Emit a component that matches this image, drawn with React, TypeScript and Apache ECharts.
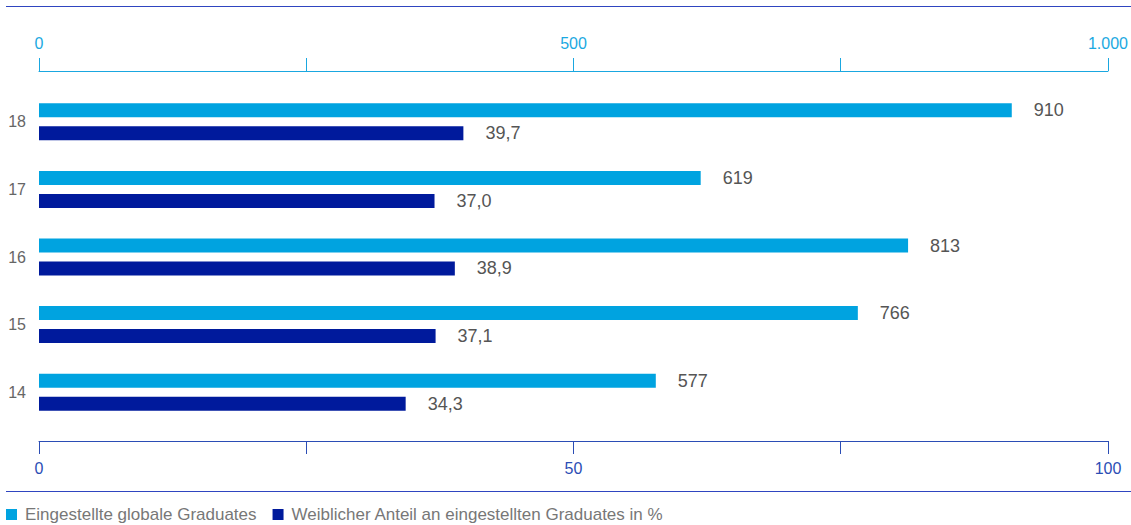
import React, { useEffect, useRef } from "react";
import * as echarts from "echarts";

const categories = ["18", "17", "16", "15", "14"];
const graduates = [910, 619, 813, 766, 577];
const femaleShare = [39.7, 37.0, 38.9, 37.1, 34.3];
const seriesNames = [
  "Eingestellte globale Graduates",
  "Weiblicher Anteil an eingestellten Graduates in %",
];

const fmtThousands = (v: number) => String(v).replace(/\B(?=(\d{3})+(?!\d))/g, ".");
const fmtDecimal = (v: number) => v.toFixed(1).replace(".", ",");

const FONT = "'Liberation Sans', Arial, Helvetica, sans-serif";

export default function App() {
  const ref = useRef<HTMLDivElement>(null);
  useEffect(() => {
    if (!ref.current) return;
    const chart = echarts.init(ref.current, undefined, { renderer: "svg" });
    chart.setOption({
      animation: false,
      textStyle: { fontFamily: FONT },
      grid: { left: 39, right: 23, top: 88, bottom: 99, containLabel: false },
      legend: {
        left: 6,
        top: 506,
        itemWidth: 11,
        itemHeight: 11,
        itemGap: 16,
        icon: "rect",
        data: seriesNames,
        textStyle: { color: "#777", fontSize: 17, fontFamily: FONT, padding: [0, 0, 0, 3] },
        padding: 0,
      },
      xAxis: [
        {
          type: "value",
          position: "top",
          min: 0,
          max: 1000,
          interval: 250,
          offset: 17,
          axisLine: { show: true, lineStyle: { color: "#1aa7e0", width: 1 } },
          axisTick: { show: true, length: 13, lineStyle: { color: "#1aa7e0" } },
          splitLine: { show: false },
          axisLabel: {
            color: "#1ba9e1",
            fontSize: 16,
            margin: 20,
            fontFamily: FONT,
            formatter: (v: number) => (v % 500 === 0 ? fmtThousands(v) : ""),
          },
        },
        {
          type: "value",
          position: "bottom",
          min: 0,
          max: 100,
          interval: 25,
          offset: 15,
          axisLine: { show: true, lineStyle: { color: "#2b4db5", width: 1 } },
          axisTick: { show: true, length: 13, lineStyle: { color: "#2b4db5" } },
          splitLine: { show: false },
          axisLabel: {
            color: "#2b4db5",
            fontSize: 16,
            margin: 19,
            fontFamily: FONT,
            formatter: (v: number) => (v % 50 === 0 ? String(v) : ""),
          },
        },
      ],
      yAxis: {
        type: "category",
        data: categories,
        inverse: true,
        axisLine: { show: false },
        axisTick: { show: false },
        splitLine: { show: false },
        axisLabel: { color: "#666", fontSize: 16, margin: 13, fontFamily: FONT },
      },
      series: [
        {
          name: seriesNames[0],
          type: "bar",
          xAxisIndex: 0,
          data: graduates,
          barWidth: 14,
          barGap: "64%",
          itemStyle: { color: "#00a3e0" },
          label: {
            show: true,
            position: "right",
            distance: 22,
            color: "#555",
            fontSize: 18,
            fontFamily: FONT,
            formatter: (p: any) => fmtThousands(p.value),
          },
        },
        {
          name: seriesNames[1],
          type: "bar",
          xAxisIndex: 1,
          data: femaleShare,
          barWidth: 14,
          barGap: "64%",
          itemStyle: { color: "#001a9c" },
          label: {
            show: true,
            position: "right",
            distance: 22,
            color: "#555",
            fontSize: 18,
            fontFamily: FONT,
            formatter: (p: any) => fmtDecimal(p.value),
          },
        },
      ],
      graphic: [
        {
          type: "line",
          shape: { x1: 6, y1: 6.5, x2: 1131, y2: 6.5 },
          style: { stroke: "#2f45c0", lineWidth: 1 },
        },
        {
          type: "line",
          shape: { x1: 6, y1: 491.5, x2: 1131, y2: 491.5 },
          style: { stroke: "#2f45c0", lineWidth: 1 },
        },
      ],
    });
    return () => chart.dispose();
  }, []);
  return (
    <div
      ref={ref}
      style={{ position: "fixed", left: 0, top: 0, width: 1131, height: 525, background: "#fff" }}
    />
  );
}
